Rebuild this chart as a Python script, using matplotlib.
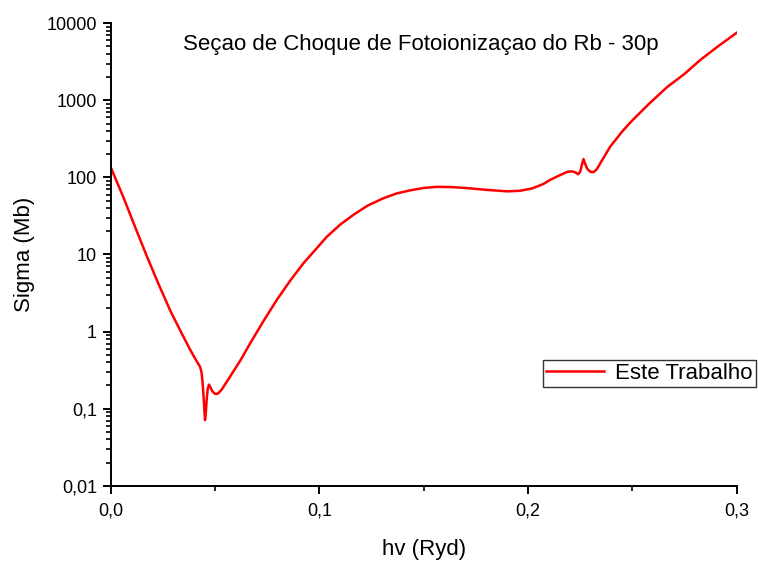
import matplotlib
matplotlib.use("Agg")
import matplotlib.pyplot as plt
from matplotlib.ticker import FixedLocator, LogLocator, NullFormatter, MultipleLocator

plt.rcParams['font.family'] = ['Liberation Sans', 'DejaVu Sans']

# Photon energy (Ryd) and photoionization cross section (Mb)
hv = [0.0000, 0.0060, 0.0115, 0.0170, 0.0227, 0.0285, 0.0339, 0.0380,
      0.0405, 0.0419, 0.0427, 0.0434, 0.0440, 0.0445, 0.0448, 0.0451,
      0.0455, 0.0459, 0.0464, 0.0470, 0.0477, 0.0485, 0.0491, 0.0500,
      0.0512, 0.0530, 0.0571, 0.0620, 0.0667, 0.0730, 0.0795, 0.0860,
      0.0923, 0.0980, 0.1035, 0.1100, 0.1162, 0.1230, 0.1306, 0.1370,
      0.1435, 0.1500, 0.1563, 0.1630, 0.1700, 0.1800, 0.1900, 0.1960,
      0.2020, 0.2073, 0.2106, 0.2150, 0.2188, 0.2210, 0.2228, 0.2240,
      0.2250, 0.2258, 0.2266, 0.2274, 0.2285, 0.2300, 0.2314, 0.2330,
      0.2346, 0.2370, 0.2394, 0.2426, 0.2450, 0.2480, 0.2506, 0.2580,
      0.2666, 0.2750, 0.2826, 0.2910, 0.3000]
sigma = [133, 55, 23, 9.8, 4.2, 1.85, 0.95, 0.58,
         0.44, 0.38, 0.35, 0.30, 0.21, 0.13, 0.094, 0.071,
         0.090, 0.13, 0.18, 0.205, 0.19, 0.17, 0.163, 0.155,
         0.156, 0.175, 0.26, 0.42, 0.70, 1.35, 2.57, 4.6,
         7.7, 11.5, 17, 24.5, 32.6, 43, 53.6, 62,
         68, 73, 75.5, 75, 73, 69, 66, 67,
         72, 82, 93, 106, 118, 120, 116, 110,
         118, 145, 173, 150, 128, 118, 117, 128,
         152, 195, 251, 322, 390, 480, 570, 900,
         1480, 2200, 3340, 5000, 7500]

x_ticks = [0.0, 0.1, 0.2, 0.3]
x_tick_labels = ["0,0", "0,1", "0,2", "0,3"]
y_ticks = [0.01, 0.1, 1, 10, 100, 1000, 10000]
y_tick_labels = ["0,01", "0,1", "1", "10", "100", "1000", "10000"]

fig = plt.figure(figsize=(7.58, 5.61), dpi=100)
ax = fig.add_axes([0.1464, 0.1342, 0.8253, 0.8243])

ax.plot(hv, sigma, color="#ff0000", linewidth=1.8, label="Este Trabalho",
        solid_joinstyle="round")

ax.set_yscale("log")
ax.set_xlim(0.0, 0.3)
ax.set_ylim(0.01, 10000)

ax.xaxis.set_major_locator(FixedLocator(x_ticks))
ax.set_xticklabels(x_tick_labels)
ax.xaxis.set_minor_locator(MultipleLocator(0.05))
ax.yaxis.set_major_locator(FixedLocator(y_ticks))
ax.set_yticklabels(y_tick_labels)
ax.yaxis.set_minor_locator(LogLocator(base=10, subs=range(2, 10), numticks=20))
ax.yaxis.set_minor_formatter(NullFormatter())

for side in ("top", "right"):
    ax.spines[side].set_visible(False)
for side in ("left", "bottom"):
    ax.spines[side].set_linewidth(1.4)

ax.tick_params(which="major", direction="out", length=6, width=1.4,
               labelsize=13, pad=4)
ax.tick_params(which="minor", direction="out", length=3.5, width=1.2)
ax.tick_params(axis="x", which="major", pad=6)

ax.set_xlabel("hv (Ryd)", fontsize=16, labelpad=14)
ax.set_ylabel("Sigma (Mb)", fontsize=16, labelpad=8)

ax.text(0.495, 0.955, "Seçao de Choque de Fotoionizaçao do Rb - 30p",
        transform=ax.transAxes, ha="center", va="center", fontsize=16)

leg = ax.legend(loc="center left", bbox_to_anchor=(543 / 758, 1 - 373.5 / 561),
                bbox_transform=fig.transFigure, fontsize=16, frameon=True,
                fancybox=False, shadow=False, borderpad=0.15, handlelength=2.6,
                handletextpad=0.5, borderaxespad=0)
leg.get_frame().set_edgecolor("black")
leg.get_frame().set_linewidth(1.0)

fig.savefig("out.png", dpi=100)
